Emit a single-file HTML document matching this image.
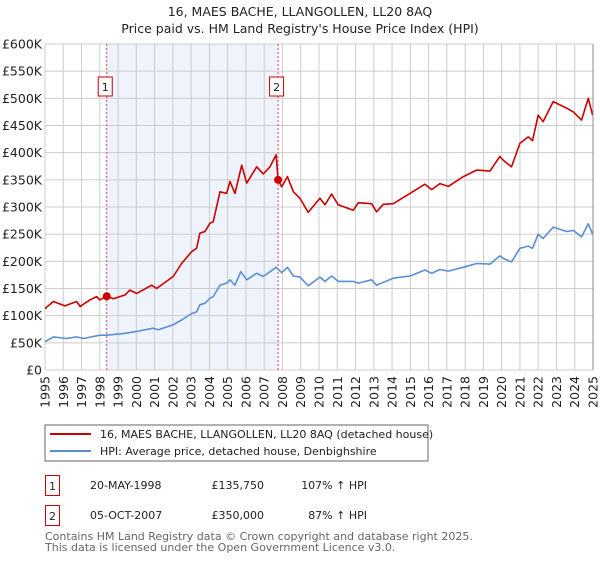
<!DOCTYPE html>
<html><head><meta charset="utf-8"><style>
body{margin:0;background:#fff;font-family:"Liberation Sans","DejaVu Sans",sans-serif;}
svg text{font-family:"DejaVu Sans","Liberation Sans",sans-serif;}
</style></head><body>
<svg id="c" width="600" height="560" viewBox="0 0 600 560" xmlns="http://www.w3.org/2000/svg">
<text x="300" y="16" text-anchor="middle" font-size="12.5" fill="#222">16, MAES BACHE, LLANGOLLEN, LL20 8AQ</text>
<text x="300" y="33" text-anchor="middle" font-size="12.5" fill="#222">Price paid vs. HM Land Registry's House Price Index (HPI)</text>
<g id="plot"></g>
<rect x="45" y="425" width="383" height="36" fill="#fff" stroke="#666"/>
<line x1="50" y1="434" x2="91" y2="434" stroke="#cc0000" stroke-width="2"/>
<text x="100" y="438" font-size="11" fill="#222">16, MAES BACHE, LLANGOLLEN, LL20 8AQ (detached house)</text>
<line x1="50" y1="451" x2="91" y2="451" stroke="#5b8fd4" stroke-width="2"/>
<text x="100" y="455" font-size="11" fill="#222">HPI: Average price, detached house, Denbighshire</text>
<rect x="45.5" y="475.5" width="14" height="20" fill="none" stroke="#cc0000"/>
<text x="52.5" y="490" font-size="11" text-anchor="middle" fill="#222">1</text>
<text x="90" y="489" font-size="11" fill="#222">20-MAY-1998</text>
<text x="264" y="489" font-size="11" text-anchor="end" fill="#222">£135,750</text>
<text x="367" y="489" font-size="11" text-anchor="end" fill="#222">107% ↑ HPI</text>
<rect x="45.5" y="505.5" width="14" height="20" fill="none" stroke="#cc0000"/>
<text x="52.5" y="520" font-size="11" text-anchor="middle" fill="#222">2</text>
<text x="90" y="519" font-size="11" fill="#222">05-OCT-2007</text>
<text x="264" y="519" font-size="11" text-anchor="end" fill="#222">£350,000</text>
<text x="367" y="519" font-size="11" text-anchor="end" fill="#222">87% ↑ HPI</text>
<text x="45" y="540" font-size="11" fill="#666">Contains HM Land Registry data © Crown copyright and database right 2025.</text>
<text x="45" y="551" font-size="11" fill="#666">This data is licensed under the Open Government Licence v3.0.</text>
</svg>
<script>
const redYears=[1995.0,1995.46,1996.09,1996.73,1996.92,1997.46,1997.83,1998.0,1998.38,1998.74,1999.38,1999.65,2000.02,2000.84,2001.11,2002.02,2002.48,2003.03,2003.3,2003.48,2003.76,2004.03,2004.21,2004.58,2004.94,2005.13,2005.4,2005.77,2006.04,2006.59,2006.95,2007.32,2007.65,2007.76,2007.96,2008.27,2008.6,2008.96,2009.41,2010.05,2010.33,2010.69,2011.05,2011.87,2012.15,2012.88,2013.15,2013.52,2014.06,2014.98,2015.8,2016.17,2016.62,2017.08,2017.9,2018.63,2019.36,2019.9,2020.18,2020.54,2021.0,2021.45,2021.69,2022.0,2022.27,2022.82,2023.55,2023.92,2024.37,2024.74,2024.98];
const redValues=[113,126,118,126,117,129,135,129,135.75,131,138,147,141,156,150,172,196,218,224,252,255,270,273,328,325,347,325,377,344,374,361,374,396,350,337,356,328,316,290,316,304,324,304,294,308,306,291,305,306,325,342,332,343,338,356,368,366,393,383,374,417,429,422,469,457,494,482,475,460,500,469];
const hpiYears=[1995.0,1995.46,1996.18,1996.73,1997.1,1998.0,1998.38,1999.3,2000.02,2000.93,2001.2,2002.0,2002.48,2003.03,2003.3,2003.48,2003.76,2004.03,2004.21,2004.58,2004.94,2005.13,2005.4,2005.72,2006.04,2006.59,2006.95,2007.65,2007.96,2008.27,2008.6,2008.96,2009.41,2010.05,2010.33,2010.69,2011.05,2011.87,2012.15,2012.88,2013.15,2014.06,2014.98,2015.8,2016.17,2016.62,2017.08,2017.9,2018.63,2019.36,2019.9,2020.18,2020.54,2021.0,2021.45,2021.69,2022.0,2022.27,2022.82,2023.55,2023.92,2024.37,2024.74,2024.98];
const hpiValues=[52,61,58,61,58,64,64,67,71,77,74,83,92,104,107,120,123,132,135,156,160,166,156,181,166,178,172,189,179,189,173,171,155,171,163,173,163,163,160,166,156,169,173,184,178,185,182,189,196,195,210,204,199,224,228,224,250,242,263,255,257,245,269,250];
const saleYears=[1998.38,2007.76];
const saleValues=[135.75,350];
const saleLabels=["1","2"];
const yTicks=[0,50,100,150,200,250,300,350,400,450,500,550,600];
const yTickLabels=["£0","£50K","£100K","£150K","£200K","£250K","£300K","£350K","£400K","£450K","£500K","£550K","£600K"];
const xTicks=[1995,1996,1997,1998,1999,2000,2001,2002,2003,2004,2005,2006,2007,2008,2009,2010,2011,2012,2013,2014,2015,2016,2017,2018,2019,2020,2021,2022,2023,2024,2025];

const X0=45,X1=593,Y0=370,Y1=44;
const xs=y=>X0+(y-1995)/30*(X1-X0);
const ys=v=>Y0-v/600*(Y0-Y1);
const NS="http://www.w3.org/2000/svg";
const g=document.getElementById('plot');
function mk(t,a){const e=document.createElementNS(NS,t);for(const k in a)e.setAttribute(k,a[k]);g.appendChild(e);return e;}
const bg=mk('rect',{x:X0,y:Y1,width:X1-X0,height:Y0-Y1,fill:'#fff'});


const sh=mk('rect',{x:xs(saleYears[0]),y:Y1,width:xs(saleYears[1])-xs(saleYears[0]),height:Y0-Y1,fill:'#eef3fc'});


yTicks.forEach((v,i)=>{
 const l=mk('line',{x1:X0,x2:X1,y1:ys(v),y2:ys(v),stroke:'#cccccc','stroke-width':1});
 
 
 const t=mk('text',{x:42,y:ys(v)+4.5,'text-anchor':'end','font-size':12.5,fill:'#222'});
 t.textContent=yTickLabels[i];
 
 
});
xTicks.forEach(y=>{
 const l=mk('line',{x1:xs(y),x2:xs(y),y1:Y1,y2:Y0,stroke:'#cccccc','stroke-width':1});
 
 
 const t=mk('text',{x:0,y:0,'text-anchor':'end','font-size':12.5,fill:'#222',transform:`translate(${xs(y)+4.5},376) rotate(-90)`});
 t.textContent=y;
 
 
});
saleYears.forEach((y,i)=>{
 const l=mk('line',{x1:xs(y),x2:xs(y),y1:Y1,y2:Y0,stroke:'#ee4444','stroke-width':1,'stroke-dasharray':'2,2'});
 
 
 const r=mk('rect',{x:xs(y)-8.5,y:77,width:14,height:19,fill:'#fff',stroke:'#cc0000'});
 
 
 const t=mk('text',{x:xs(y)-1.5,y:91,'text-anchor':'middle','font-size':11,fill:'#222'});
 t.textContent=saleLabels[i];
 
 
});
function line(xa,va,c,n){
 const p=mk('path',{d:xa.map((y,i)=>(i?'L':'M')+xs(y).toFixed(1)+','+ys(va[i]).toFixed(1)).join(''),fill:'none',stroke:c,'stroke-width':1.6,'stroke-linejoin':'round'});
 
 
}
line(hpiYears,hpiValues,'#5b8fd4','hpi-line');
line(redYears,redValues,'#cc0000','property-line');
saleYears.forEach((y,i)=>{
 const c=mk('circle',{cx:xs(y),cy:ys(saleValues[i]),r:4,fill:'#cc0000'});
 
 
});
const ax=mk('line',{x1:X1,x2:X1,y1:Y1,y2:Y0,stroke:'#888'});


</script>
</body></html>
